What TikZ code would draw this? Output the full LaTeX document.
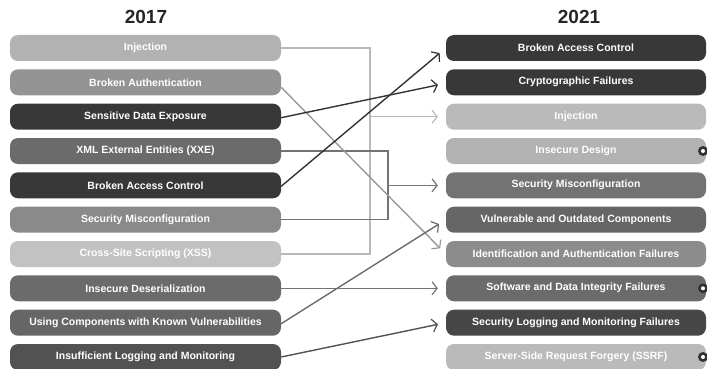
\documentclass[tikz,border=0pt]{standalone}
\usepackage{fontspec}
\setmainfont{Liberation Sans}
\usetikzlibrary{arrows.meta}
\begin{document}
\begin{tikzpicture}[x=1pt,y=-1pt,
  lbox/.style={rounded corners=8pt, minimum width=271pt, minimum height=26pt, inner sep=0pt,
     text=white, font=\bfseries\fontsize{10.5}{12}\selectfont},
  rbox/.style={lbox, minimum width=260pt},
  head/.style={font=\bfseries\fontsize{19}{22}\selectfont, text=black!85},
  conn/.style={line width=1.4pt},
  arr/.style={conn, -{Straight Barb[length=5pt,width=13pt,line width=1.2pt]}, shorten >=8pt},
  newmark/.style={circle, fill=black!80, minimum size=10pt, inner sep=0pt,
     path picture={\fill[white] (path picture bounding box.center) circle (2pt);}}
]
\useasboundingbox (0,0) rectangle (707,369);

\node[head] (h1) at (146,17) {2017};
\node[head] (h2) at (579,17) {2021};

% left column
\node[lbox, fill=black!30] (l1) at (145.5,48)    {Injection};
\node[lbox, fill=black!42] (l2) at (145.5,82.3)  {Broken Authentication};
\node[lbox, fill=black!78] (l3) at (145.5,116.7) {Sensitive Data Exposure};
\node[lbox, fill=black!58] (l4) at (145.5,151)   {XML External Entities (XXE)};
\node[lbox, fill=black!78] (l5) at (145.5,185.3) {Broken Access Control};
\node[lbox, fill=black!46] (l6) at (145.5,219.7) {Security Misconfiguration};
\node[lbox, fill=black!24] (l7) at (145.5,254)   {Cross-Site Scripting (XSS)};
\node[lbox, fill=black!58] (l8) at (145.5,288.3) {Insecure Deserialization};
\node[lbox, fill=black!60] (l9) at (145.5,322.7) {Using Components with Known Vulnerabilities};
\node[lbox, fill=black!68] (l10) at (145.5,357)  {Insufficient Logging and Monitoring};

% right column
\node[rbox, fill=black!78] (r1) at (576,48)    {Broken Access Control};
\node[rbox, fill=black!78] (r2) at (576,82.3)  {Cryptographic Failures};
\node[rbox, fill=black!27] (r3) at (576,116.7) {Injection};
\node[rbox, fill=black!30] (r4) at (576,151)   {Insecure Design};
\node[rbox, fill=black!55] (r5) at (576,185.3) {Security Misconfiguration};
\node[rbox, fill=black!60] (r6) at (576,219.7) {Vulnerable and Outdated Components};
\node[rbox, fill=black!45] (r7) at (576,254)   {Identification and Authentication Failures};
\node[rbox, fill=black!58] (r8) at (576,288.3) {Software and Data Integrity Failures};
\node[rbox, fill=black!72] (r9) at (576,322.7) {Security Logging and Monitoring Failures};
\node[rbox, fill=black!27] (r10) at (576,357)  {Server-Side Request Forgery (SSRF)};

% "new" markers
\node[newmark] (n4) at (703,151) {};
\node[newmark] (n8) at (703,288.3) {};
\node[newmark] (n10) at (703,357) {};

% bus coordinates
\coordinate (busA) at (370,0);
\coordinate (busB) at (388,0);

% Injection + XSS -> Injection
\draw[conn, black!28] (l1.east) -| (busA |- l7.east) -- (l7.east);
\draw[arr, black!28] (busA |- r3.west) -- (r3.west);

% XXE + Security Misconfiguration -> Security Misconfiguration
\draw[conn, black!55] (l4.east) -| (busB |- l6.east) -- (l6.east);
\draw[arr, black!55] (busB |- r5.west) -- (r5.west);

% Broken Authentication -> Identification and Authentication Failures
\draw[arr, black!40] ([yshift=-5pt]l2.east) -- (r7.west);
% Sensitive Data Exposure -> Cryptographic Failures
\draw[arr, black!80] ([yshift=-1pt]l3.east) -- ([yshift=-1pt]r2.west);
% Broken Access Control -> Broken Access Control
\draw[arr, black!80] ([yshift=-1pt]l5.east) -- (r1.west);
% Insecure Deserialization -> Software and Data Integrity Failures
\draw[arr, black!55] (l8.east) -- (r8.west);
% Using Components -> Vulnerable and Outdated Components
\draw[arr, black!58] ([yshift=-1pt]l9.east) -- (r6.west);
% Insufficient Logging -> Security Logging
\draw[arr, black!68] (l10.east) -- (r9.west);
\end{tikzpicture}
\end{document}
